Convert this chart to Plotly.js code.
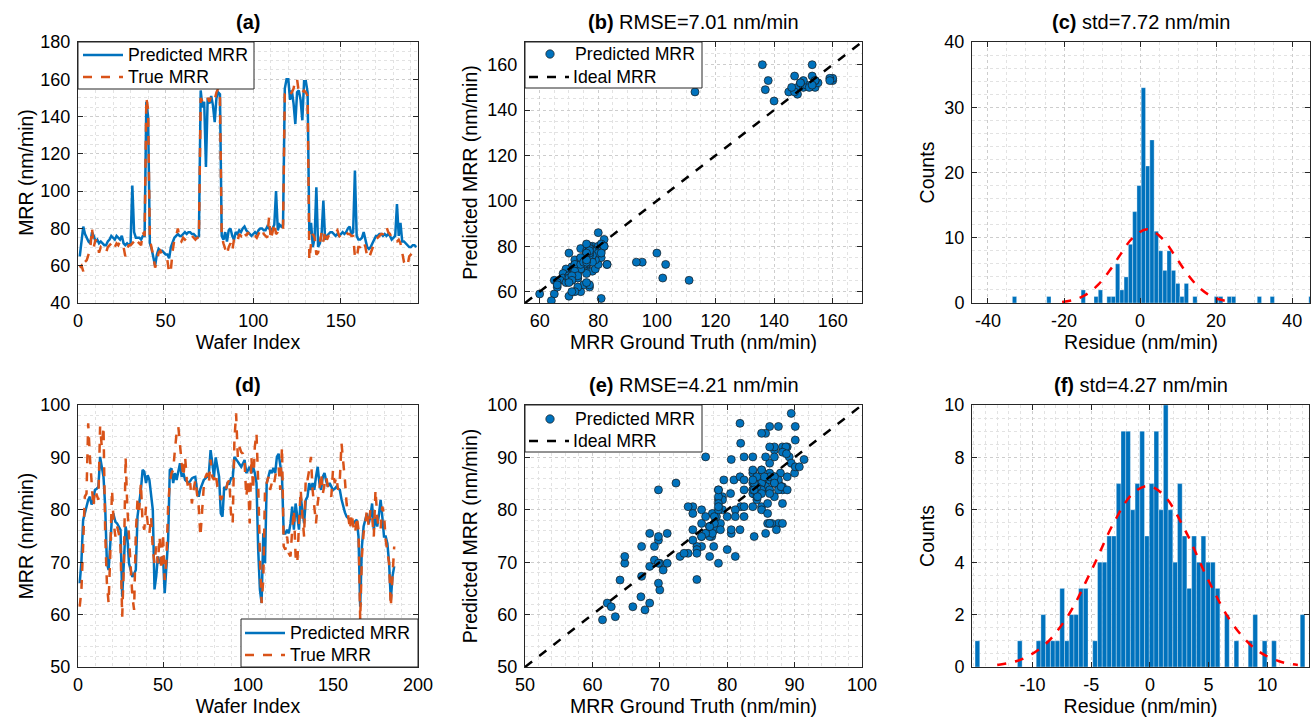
<!DOCTYPE html>
<html>
<head>
<meta charset="utf-8">
<script src="https://cdn.plot.ly/plotly-3.0.1.min.js"></script>
<style>html,body{margin:0;padding:0;background:#fff}#chart{width:1312px;height:725px}</style>
</head>
<body>
<div id="chart"></div>
<script>
// ---------------- DATA ----------------
// Panel (a)/(b): first dataset, predicted and true MRR per wafer (nm/min)
const predMRR_A = [
 65,74,81,77,75,73,72,78,76,73,
 74,72,73,72,71,71,73,74,76,75,
 74,76,75,74,76,72,71,72,71,72,
 103,78,75,75,75,74,76,76,148,140,
 72,69,65,60,66,69,68,68,67,66,
 66,64,70,73,75,76,77,76,76,77,
 78,77,78,78,77,77,76,75,76,154,
 145,148,113,150,147,151,146,137,150,153,
 152,76,74,78,73,79,80,76,74,78,
 77,79,78,80,81,79,78,77,76,77,
 78,77,79,80,80,79,79,81,80,79,
 80,82,100,79,82,81,82,155,160,160,
 149,154,147,136,153,154,149,138,159,159,
 153,77,83,70,75,102,70,72,77,95,
 74,76,77,78,78,77,76,77,76,77,
 78,77,78,80,81,77,78,111,76,74,
 74,75,78,74,70,69,70,72,74,76,
 76,77,77,76,77,76,77,76,74,75,
 76,93,76,83,73,73,72,71,70,70,
 71,71,70];
const trueMRR_A = [
 59,60,57,62,63,66,69,80,70,74,
 72,67,70,69,68,67,70,71,72,73,
 70,72,71,73,72,70,65,69,71,71,
 72,73,71,73,72,71,78,76,150,144,
 74,70,65,59,62,67,68,66,65,64,
 63,56,58,68,74,76,80,74,73,75,
 74,75,76,77,76,75,74,75,75,150,
 148,147,148,150,148,151,150,149,153,155,
 150,76,72,69,66,70,72,68,74,75,
 73,77,76,79,78,76,78,75,75,76,
 76,75,77,79,80,77,76,75,86,74,
 78,83,77,78,80,81,80,152,153,154,
 152,153,155,160,160,153,152,153,154,153,
 151,63,72,77,75,66,67,72,78,73,
 79,74,76,77,77,78,78,79,76,75,
 76,77,78,77,77,76,76,65,64,70,
 70,72,73,70,65,64,67,69,72,74,
 75,76,77,77,79,81,78,77,75,73,
 73,73,74,72,67,62,60,60,65,66,
 67,65,64];

// Panel (d)/(e): second dataset
const predMRR_D = [
 66,70,78,79.3,80.5,81.9,82.5,81,82,83.8,
 84,84.4,90.1,88.2,86.3,80.6,69.8,68.5,74.2,78.7,
 79,77.7,77.4,76.8,76.2,63.4,70,76.8,74.9,69.8,
 68.5,67.2,67.8,68.5,78.7,81.2,83.8,87.6,87.3,85.1,
 86.6,85.7,82.5,80,64.8,67.3,71.1,69.8,70.5,71.1,
 64.1,69.2,74.2,87.6,87.9,85.1,87,85.7,87.6,88.9,
 86.3,87,85.7,85.4,85.1,85.5,86,86.2,86.3,83.8,
 82.5,84,85.1,85.7,86,86.3,87,91.4,88.9,86.3,
 90,88.2,86.3,79.3,78.7,84.4,83.8,85.1,85,86,
 86,90.1,89.5,89.2,88.7,88.2,88.8,89.5,87,87.6,
 88.2,87,88.2,87,85.1,72.4,64.8,62.2,75.5,69.8,
 85.1,86.3,87.6,87,88,87,90.1,90.7,88.9,86.3,
 75.5,75.5,76.2,75.5,77.4,80.6,76.2,81.2,78.7,76.2,
 82.5,80,77.4,81.9,82.5,85.1,83.8,85.1,83.8,86.3,
 88.2,85.1,83.8,86.3,87,85.5,84.4,85.1,84.5,83.8,
 84,84.4,84,83.8,82,80.6,79.5,78.7,78.4,78.1,
 77.8,77.4,77.8,78.1,74.9,61.5,73,76.8,78.1,79.3,
 77.4,78.7,81.2,76.2,78.7,76.8,79,81.9,78.7,74.9,
 74.9,73.6,69.8,62.8,67.3,69.2];
const trueMRR_D = [
 61.5,64.7,73,82.5,83.1,96.5,90.1,85.7,80.6,83.8,
 83,81.9,95.9,92,95.9,75.5,66,62.2,71.7,83.8,
 77.4,74.9,76.8,75.5,73,59.6,69.8,90.1,80.6,74.2,
 69.2,63.4,60.9,75.5,81.9,80,85.1,77.4,76.2,80.6,
 77.4,75.5,78.7,72.4,69.8,73,69.8,74.9,68.5,75.5,
 66.6,70.4,80.6,85.1,87,87.6,91.4,94.6,95.9,92,
 88.9,86.3,90.1,85.7,83.8,85.1,81.2,83.8,85.7,83.1,
 80.6,74.9,80,84.5,86.3,87,85.1,89.6,86.3,85.7,
 87,84.4,83.8,81.9,82.5,82.5,83.8,85.1,85.7,79.3,
 77.4,93.3,98.4,90.1,92,91,90.7,88.9,82.5,85.7,
 77.4,90.1,83.8,92,94.6,85.1,71.1,62.2,66.7,83.8,
 85.1,86.3,83.8,85.1,84.4,86.3,88.2,88.2,83.8,92,
 73,72.4,74.9,71.7,71.1,76.2,80,71.1,69.8,77.4,
 83.8,78.7,74.9,86.3,85.7,87.6,90.1,83.8,80.6,77.4,
 81.2,83.8,87,83.1,85.1,86.3,84.4,83.1,82.5,87.6,
 85.1,86.3,83.8,85.7,92.7,89.6,85.7,81.2,78.7,76.2,
 79.3,76.8,75.5,78.7,76.2,59,71.1,75.5,77.4,80,
 76.8,80,78.7,74.9,83.8,78.7,76.2,76.2,80.6,79.3,
 74.2,71.7,69.8,61.5,67.3,73];

// Ideal (y = x) reference lines, spanning each scatter axis
const idealLineB = [55, 170];
const idealLineE = [50, 100];

// Panel (c): residue histogram (bin centres, counts) and fitted normal curve
const residueBinsC = [-33.02,-23.98,-14.94,-11.55,-10.42,-8.16,-7.03,-5.9,-4.77,-3.64,-2.51,-1.38,-0.25,0.88,2.01,3.14,4.27,5.4,6.53,7.66,8.79,9.92,11.05,12.18,14.44,20.09,21.22,23.48,24.61,31.39,34.78,44.95];
const residueCountsC = [1,1,2,1,2,1,1,6,2,4,9,14,18,33,21,25,11,8,5,8,5,3,1,3,1,1,1,1,1,1,1,1];
const binWidthC = 1.13;
const fitC_x = [-20.5,-17,-14,-11,-8,-5,-2,1.9,6,9,12,15,18,21,24.3];
const fitC_y = [0.17,0.56,1.36,2.8,4.97,7.57,9.95,11.3,9.8,7.4,4.8,2.68,1.29,0.53,0.17];

// Panel (f)
const residueBinsF = [-14.69,-11.08,-9.48,-9.08,-8.68,-8.27,-7.87,-7.47,-7.07,-6.67,-6.27,-5.87,-5.47,-4.67,-4.26,-3.86,-3.46,-3.06,-2.66,-2.26,-1.86,-1.46,-1.06,-0.66,-0.25,0.15,0.55,0.95,1.35,1.75,2.15,2.55,2.95,3.35,3.76,4.16,4.56,4.96,5.36,5.76,6.56,7.37,8.57,8.97,9.77,10.57,13.0];
const residueCountsF = [1,1,1,2,1,1,1,3,1,2,2,3,3,1,4,4,5,5,7,9,9,6,7,9,5,7,9,6,10,6,4,7,5,3,5,4,5,4,4,3,2,1,1,2,1,1,2];
const binWidthF = 0.401;
const fitF_x = [-13,-11,-9,-7,-5,-3,-1.5,-0.2,1.2,3,5,7,9,11,12.6];
const fitF_y = [0.077,0.28,0.83,1.94,3.67,5.57,6.6,6.91,6.55,5.22,3.29,1.67,0.68,0.22,0.077];

// Tick values
const ticksA_x = [0,50,100,150], ticksA_y = [40,60,80,100,120,140,160,180];
const ticksB = [60,80,100,120,140,160];
const ticksC_x = [-40,-20,0,20,40], ticksC_y = [0,10,20,30,40];
const ticksD_x = [0,50,100,150,200], ticksD_y = [50,60,70,80,90,100];
const ticksE = [50,60,70,80,90,100];
const ticksF_x = [-10,-5,0,5,10], ticksF_y = [0,2,4,6,8,10];

// Titles and legend labels
const panelTitles = [
 '<b>(a)</b>', '<b>(b)</b> RMSE=7.01 nm/min', '<b>(c)</b> std=7.72 nm/min',
 '<b>(d)</b>', '<b>(e)</b> RMSE=4.21 nm/min', '<b>(f)</b> std=4.27 nm/min'];
const seriesNamesLine = ['Predicted MRR', 'True MRR'];
const seriesNamesScatter = ['Predicted MRR', 'Ideal MRR'];

// ---------------- STYLE / LAYOUT ----------------
const W = 1312, H = 725;
const FONT = 'Liberation Sans, Arial, Helvetica, sans-serif';
const BLUE = '#0072BD', ORANGE = '#D95319', EDGE = '#262626';
const fx = p => p / W, fy = p => 1 - p / H;

const boxes = {
  a: [78, 418, 42, 303], b: [525, 862, 42, 303], c: [972, 1310, 42, 303],
  d: [78, 418, 405, 667], e: [525, 862, 405, 667], f: [972, 1309, 405, 667]
};

function axis(box, isX, range, tickvals, minorStep, title, anchor, standoff) {
  const dom = isX ? [fx(box[0]), fx(box[1])] : [fy(box[3]), fy(box[2])];
  return {
    domain: dom, anchor: anchor, range: range, autorange: false, fixedrange: true,
    tickmode: 'array', tickvals: tickvals, ticktext: tickvals.map(v => String(v)),
    showline: true, linecolor: EDGE, linewidth: 1, mirror: 'ticks',
    ticks: 'inside', ticklen: 5, tickwidth: 1, tickcolor: EDGE,
    showgrid: true, gridcolor: '#cdcdcd', griddash: 'dot', gridwidth: 1,
    zeroline: false,
    minor: {showgrid: true, gridcolor: '#e2e2e2', griddash: 'dot', gridwidth: 1, tick0: 0, dtick: minorStep, ticks: ''},
    tickfont: {family: FONT, size: 18, color: '#000'},
    ticklabelstandoff: isX ? 1 : 3,
    title: {text: title, font: {family: FONT, size: 19.5, color: '#000'}, standoff: standoff}
  };
}

const traces = [];
const idxA = predMRR_A.map((_, i) => i + 1);
const idxD = predMRR_D.map((_, i) => i + 1);

// (a)
traces.push({x: idxA, y: predMRR_A, type: 'scatter', mode: 'lines', name: seriesNamesLine[0], showlegend: false,
  line: {color: BLUE, width: 2.5}, xaxis: 'x', yaxis: 'y'});
traces.push({x: idxA, y: trueMRR_A, type: 'scatter', mode: 'lines', name: seriesNamesLine[1], showlegend: false,
  line: {color: ORANGE, width: 2.5, dash: 'dash'}, xaxis: 'x', yaxis: 'y'});
// (b)
traces.push({x: predMRR_A, y: trueMRR_A, type: 'scatter', mode: 'markers', name: seriesNamesScatter[0], showlegend: false,
  marker: {color: BLUE, size: 8, line: {color: '#1a1a1a', width: 0.7}}, xaxis: 'x2', yaxis: 'y2'});
traces.push({x: idealLineB, y: idealLineB, type: 'scatter', mode: 'lines', name: seriesNamesScatter[1], showlegend: false,
  line: {color: '#000', width: 2.5, dash: 'dash'}, xaxis: 'x2', yaxis: 'y2'});
// (c)
traces.push({x: residueBinsC, y: residueCountsC, type: 'bar', width: binWidthC, showlegend: false,
  marker: {color: BLUE, line: {color: 'rgba(255,255,255,0.55)', width: 0.6}}, xaxis: 'x3', yaxis: 'y3'});
traces.push({x: fitC_x, y: fitC_y, type: 'scatter', mode: 'lines', showlegend: false,
  line: {color: '#ff0000', width: 2.5, dash: 'dash', shape: 'spline'}, xaxis: 'x3', yaxis: 'y3'});
// (d)
traces.push({x: idxD, y: predMRR_D, type: 'scatter', mode: 'lines', name: seriesNamesLine[0], showlegend: false,
  line: {color: BLUE, width: 2.5}, xaxis: 'x4', yaxis: 'y4'});
traces.push({x: idxD, y: trueMRR_D, type: 'scatter', mode: 'lines', name: seriesNamesLine[1], showlegend: false,
  line: {color: ORANGE, width: 2.5, dash: 'dash'}, xaxis: 'x4', yaxis: 'y4'});
// (e)
traces.push({x: predMRR_D, y: trueMRR_D, type: 'scatter', mode: 'markers', name: seriesNamesScatter[0], showlegend: false,
  marker: {color: BLUE, size: 8, line: {color: '#1a1a1a', width: 0.7}}, xaxis: 'x5', yaxis: 'y5'});
traces.push({x: idealLineE, y: idealLineE, type: 'scatter', mode: 'lines', name: seriesNamesScatter[1], showlegend: false,
  line: {color: '#000', width: 2.5, dash: 'dash'}, xaxis: 'x5', yaxis: 'y5'});
// (f)
traces.push({x: residueBinsF, y: residueCountsF, type: 'bar', width: binWidthF, showlegend: false,
  marker: {color: BLUE, line: {color: 'rgba(255,255,255,0.55)', width: 0.6}}, xaxis: 'x6', yaxis: 'y6'});
traces.push({x: fitF_x, y: fitF_y, type: 'scatter', mode: 'lines', showlegend: false,
  line: {color: '#ff0000', width: 2.5, dash: 'dash', shape: 'spline'}, xaxis: 'x6', yaxis: 'y6'});

// ---- MATLAB-style legend boxes (paper coordinates, in px) ----
const shapes = [];
const annotations = [];
function legendBox(x0, y0, x1, y1, rows) {
  shapes.push({type: 'rect', xref: 'paper', yref: 'paper', x0: fx(x0), x1: fx(x1), y0: fy(y1), y1: fy(y0),
    fillcolor: '#ffffff', line: {color: EDGE, width: 1}, layer: 'above'});
  rows.forEach(r => {
    if (r.kind === 'marker') {
      const cx = (r.s0 + r.s1) / 2, rad = 4.2;
      shapes.push({type: 'circle', xref: 'paper', yref: 'paper', x0: fx(cx - rad), x1: fx(cx + rad),
        y0: fy(r.y + rad), y1: fy(r.y - rad), fillcolor: BLUE, line: {color: '#1a1a1a', width: 0.7}, layer: 'above'});
    } else {
      shapes.push({type: 'line', xref: 'paper', yref: 'paper', x0: fx(r.s0), x1: fx(r.s1), y0: fy(r.y), y1: fy(r.y),
        line: {color: r.color, width: 2.5, dash: r.kind === 'dash' ? 'dash' : 'solid'}, layer: 'above'});
    }
    annotations.push({text: r.text, xref: 'paper', yref: 'paper', x: fx(r.tx), y: fy(r.y),
      xanchor: 'left', yanchor: 'middle', showarrow: false, font: {family: FONT, size: 17.7, color: '#000'}});
  });
}
legendBox(78, 42, 254, 89, [
  {kind: 'line', color: BLUE, s0: 83, s1: 123, y: 55, tx: 126, text: seriesNamesLine[0]},
  {kind: 'dash', color: ORANGE, s0: 83, s1: 123, y: 77, tx: 126, text: seriesNamesLine[1]}]);
legendBox(525, 42, 702, 88, [
  {kind: 'marker', s0: 530, s1: 570, y: 54, tx: 573, text: seriesNamesScatter[0]},
  {kind: 'dash', color: '#000', s0: 529, s1: 569, y: 77, tx: 571, text: seriesNamesScatter[1]}]);
legendBox(241, 619, 418, 667, [
  {kind: 'line', color: BLUE, s0: 245, s1: 285, y: 633, tx: 288, text: seriesNamesLine[0]},
  {kind: 'dash', color: ORANGE, s0: 245, s1: 285, y: 655, tx: 288, text: seriesNamesLine[1]}]);
legendBox(525, 405, 702, 452, [
  {kind: 'marker', s0: 530, s1: 570, y: 419, tx: 573, text: seriesNamesScatter[0]},
  {kind: 'dash', color: '#000', s0: 529, s1: 569, y: 441, tx: 571, text: seriesNamesScatter[1]}]);

// Panel titles
const keys = ['a','b','c','d','e','f'];
keys.forEach((k, i) => {
  const b = boxes[k];
  annotations.push({text: panelTitles[i], xref: 'paper', yref: 'paper',
    x: fx((b[0] + b[1]) / 2), y: fy(b[2] - 7), xanchor: 'center', yanchor: 'bottom',
    showarrow: false, font: {family: FONT, size: 20, color: '#000'}});
});

const layout = {
  width: W, height: H, margin: {l: 0, r: 0, t: 0, b: 0},
  paper_bgcolor: '#fff', plot_bgcolor: '#fff', bargap: 0,
  font: {family: FONT, color: '#000'},
  showlegend: false,
  xaxis:  axis(boxes.a, true,  [0, 194], ticksA_x, 10, 'Wafer Index', 'y', 4),
  yaxis:  axis(boxes.a, false, [40, 180], ticksA_y, 5, 'MRR (nm/min)', 'x', 1),
  xaxis2: axis(boxes.b, true,  [55, 170], ticksB, 5, 'MRR Ground Truth (nm/min)', 'y2', 4),
  yaxis2: axis(boxes.b, false, [55, 170], ticksB, 5, 'Predicted MRR (nm/min)', 'x2', 4),
  xaxis3: axis(boxes.c, true,  [-44.2, 44.7], ticksC_x, 5, 'Residue (nm/min)', 'y3', 4),
  yaxis3: axis(boxes.c, false, [0, 40], ticksC_y, 2, 'Counts', 'x3', 4),
  xaxis4: axis(boxes.d, true,  [0, 200], ticksD_x, 10, 'Wafer Index', 'y4', 4),
  yaxis4: axis(boxes.d, false, [50, 100], ticksD_y, 2, 'MRR (nm/min)', 'x4', 1),
  xaxis5: axis(boxes.e, true,  [50, 100], ticksE, 2, 'MRR Ground Truth (nm/min)', 'y5', 4),
  yaxis5: axis(boxes.e, false, [50, 100], ticksE, 2, 'Predicted MRR (nm/min)', 'x5', 4),
  xaxis6: axis(boxes.f, true,  [-15.15, 13.55], ticksF_x, 1, 'Residue (nm/min)', 'y6', 4),
  yaxis6: axis(boxes.f, false, [0, 10], ticksF_y, 0.5, 'Counts', 'x6', 4),
  shapes: shapes,
  annotations: annotations
};

Plotly.newPlot('chart', traces, layout, {displayModeBar: false, staticPlot: true});
</script>
</body>
</html>
